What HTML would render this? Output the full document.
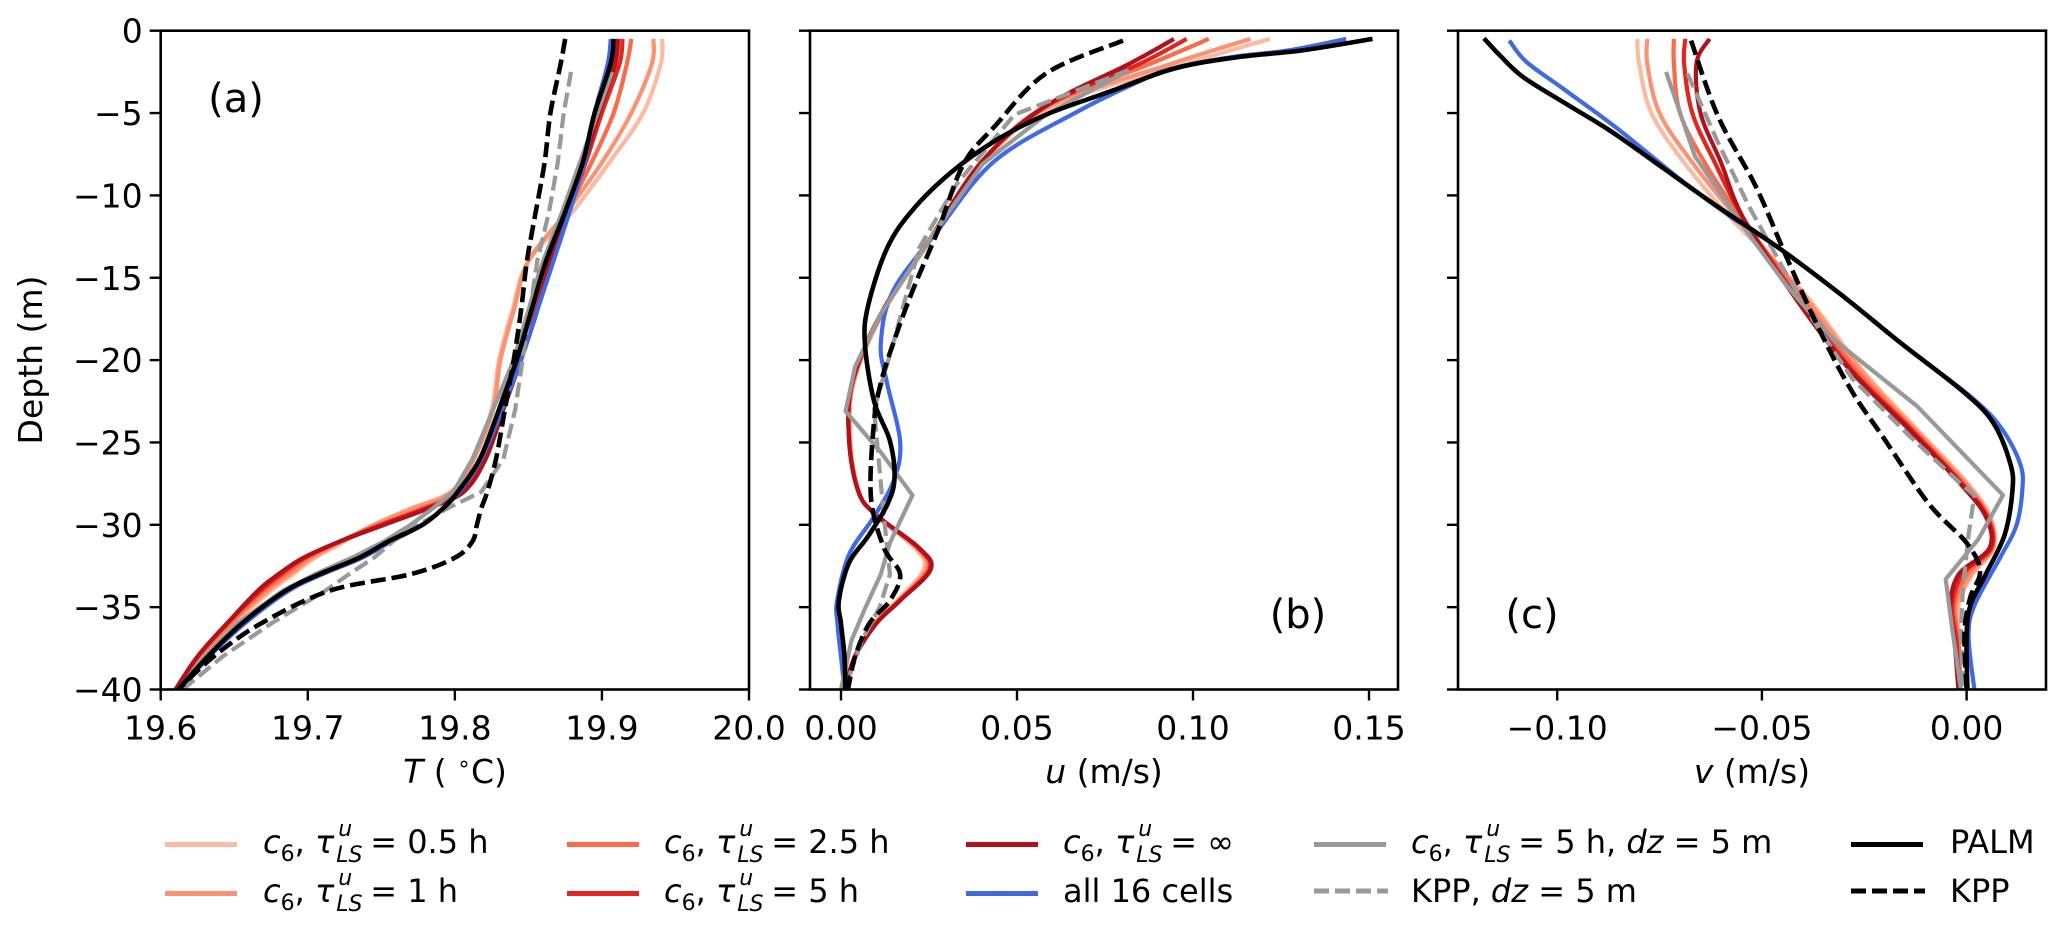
<!DOCTYPE html>
<html><head><meta charset="utf-8">
<style>
html,body{margin:0;padding:0;background:#fff;}
body{width:2067px;height:941px;position:relative;overflow:hidden;font-family:"DejaVu Sans","Liberation Sans",sans-serif;}
svg{position:absolute;left:0;top:0;}
.leg{position:absolute;font-size:32px;line-height:32px;white-space:nowrap;color:#000;}
.ss{display:inline-block;position:relative;width:36px;height:32px;vertical-align:top;}
.ss .u{position:absolute;left:4px;top:-12px;font-size:22px;font-style:italic;}
.ss .l{position:absolute;left:2px;top:14px;font-size:22px;font-style:italic;}
.sub{font-size:22px;position:relative;top:8px;}
i{font-style:italic;}
.sw{position:absolute;height:0;width:72px;}
</style></head>
<body>
<svg id="chart" width="2067" height="941" xmlns="http://www.w3.org/2000/svg">
<defs>
<clipPath id="ca"><rect x="160.7" y="30.7" width="588.3" height="658.8"/></clipPath>
<clipPath id="cb"><rect x="810" y="30.7" width="588" height="658.8"/></clipPath>
<clipPath id="cc"><rect x="1458" y="30.7" width="588" height="658.8"/></clipPath>
</defs>
<g id="gA" clip-path="url(#ca)"></g>
<g id="gB" clip-path="url(#cb)"></g>
<g id="gC" clip-path="url(#cc)"></g>
<g id="axes"></g>
<text x="236" y="112" font-size="40" text-anchor="middle" font-family="DejaVu Sans, sans-serif">(a)</text>
<text x="1298" y="628" font-size="40" text-anchor="middle" font-family="DejaVu Sans, sans-serif">(b)</text>
<text x="1532" y="628" font-size="40" text-anchor="middle" font-family="DejaVu Sans, sans-serif">(c)</text>
<text transform="translate(42,360) rotate(-90)" font-size="33" text-anchor="middle" font-family="DejaVu Sans, sans-serif">Depth (m)</text>
<text x="455" y="783" font-size="33" text-anchor="middle" font-family="DejaVu Sans, sans-serif"><tspan font-style="italic">T</tspan> ( <tspan font-size="22" dy="-12">∘</tspan><tspan dy="12">C)</tspan></text>
<text x="1104" y="783" font-size="33" text-anchor="middle" font-family="DejaVu Sans, sans-serif"><tspan font-style="italic">u</tspan> (m/s)</text>
<text x="1752" y="783" font-size="33" text-anchor="middle" font-family="DejaVu Sans, sans-serif"><tspan font-style="italic">v</tspan> (m/s)</text>
</svg>

<div>
<div class="sw" style="left:165px;top:842px;border-top:5px solid #fcbba1"></div>
<div class="leg" style="left:263px;top:826px"><i>c</i><span class="sub">6</span>, <i>τ</i><span class="ss"><span class="u">u</span><span class="l">LS</span></span>= 0.5 h</div>
<div class="sw" style="left:165px;top:891px;border-top:5px solid #fc9272"></div>
<div class="leg" style="left:263px;top:875px"><i>c</i><span class="sub">6</span>, <i>τ</i><span class="ss"><span class="u">u</span><span class="l">LS</span></span>= 1 h</div>
<div class="sw" style="left:567px;top:842px;border-top:5px solid #fb6a4a"></div>
<div class="leg" style="left:664px;top:826px"><i>c</i><span class="sub">6</span>, <i>τ</i><span class="ss"><span class="u">u</span><span class="l">LS</span></span>= 2.5 h</div>
<div class="sw" style="left:567px;top:891px;border-top:5px solid #e2261f"></div>
<div class="leg" style="left:664px;top:875px"><i>c</i><span class="sub">6</span>, <i>τ</i><span class="ss"><span class="u">u</span><span class="l">LS</span></span>= 5 h</div>
<div class="sw" style="left:966px;top:842px;border-top:5px solid #b0111a"></div>
<div class="leg" style="left:1063px;top:826px"><i>c</i><span class="sub">6</span>, <i>τ</i><span class="ss"><span class="u">u</span><span class="l">LS</span></span>= ∞</div>
<div class="sw" style="left:966px;top:891px;border-top:5px solid #4169e1"></div>
<div class="leg" style="left:1063px;top:875px">all 16 cells</div>
<div class="sw" style="left:1314px;top:842px;border-top:5px solid #999"></div>
<div class="leg" style="left:1411px;top:826px"><i>c</i><span class="sub">6</span>, <i>τ</i><span class="ss"><span class="u">u</span><span class="l">LS</span></span>= 5 h, <i>dz</i> = 5 m</div>
<svg style="left:1314px;top:885px" width="74" height="12"><line x1="0" y1="6" x2="74" y2="6" stroke="#999" stroke-width="5" stroke-dasharray="15,6"/></svg>
<div class="leg" style="left:1411px;top:875px">KPP, <i>dz</i> = 5 m</div>
<div class="sw" style="left:1851px;top:842px;border-top:5px solid #000"></div>
<div class="leg" style="left:1950px;top:826px">PALM</div>
<svg style="left:1851px;top:885px" width="74" height="12"><line x1="0" y1="6" x2="74" y2="6" stroke="#000" stroke-width="5" stroke-dasharray="15,6"/></svg>
<div class="leg" style="left:1950px;top:875px">KPP</div>
</div>

<script>
// ---------- data: panel (a) temperature ----------
const dA = [-0.5,-2,-5,-8,-11,-14,-17,-20,-23,-26,-28,-29,-30,-31,-32,-33,-34,-36,-38,-40];
const tA_05 = [19.941,19.940,19.928,19.905,19.880,19.850,19.839,19.830,19.825,19.813,19.797,19.770,19.745,19.725,19.705,19.690,19.675,19.650,19.628,19.610];
const tA_1 = [19.935,19.934,19.920,19.900,19.876,19.850,19.840,19.831,19.826,19.813,19.798,19.772,19.745,19.724,19.703,19.688,19.673,19.648,19.627,19.610];
const tA_25 = [19.920,19.917,19.908,19.893,19.876,19.860,19.850,19.840,19.830,19.818,19.802,19.778,19.748,19.722,19.700,19.685,19.670,19.647,19.626,19.610];
const tA_5 = [19.914,19.912,19.900,19.889,19.877,19.865,19.855,19.844,19.832,19.820,19.805,19.780,19.750,19.722,19.698,19.682,19.668,19.645,19.625,19.610];
const tA_inf = [19.911,19.909,19.898,19.888,19.877,19.865,19.856,19.845,19.833,19.821,19.806,19.782,19.752,19.722,19.697,19.680,19.666,19.645,19.625,19.610];
const tA_all = [19.906,19.904,19.895,19.888,19.878,19.867,19.856,19.845,19.832,19.818,19.803,19.792,19.778,19.757,19.737,19.710,19.687,19.657,19.633,19.613];
const tA_palm = [19.908,19.906,19.895,19.887,19.875,19.862,19.852,19.842,19.830,19.817,19.802,19.792,19.778,19.755,19.735,19.708,19.685,19.655,19.632,19.612];
const tA_kpp = [19.875,19.872,19.865,19.861,19.855,19.849,19.845,19.840,19.834,19.828,19.822,19.818,19.815,19.812,19.800,19.770,19.715,19.668,19.636,19.612];
const dA5 = [-2.5,-5,-8,-11,-14,-17,-20,-23,-26,-28,-29,-30,-31,-32,-33,-34,-36,-38,-40];
const tA_dz5 = [19.907,19.897,19.885,19.873,19.860,19.850,19.840,19.826,19.812,19.799,19.785,19.770,19.752,19.730,19.705,19.683,19.652,19.630,19.612];
const tA_kppdz5 = [19.879,19.874,19.870,19.864,19.856,19.851,19.846,19.841,19.833,19.818,19.795,19.775,19.758,19.745,19.728,19.712,19.675,19.642,19.615];

// ---------- data: panel (b) u ----------
const dB_red = [-0.5,-2,-4.6,-7.9,-12.5,-17.2,-21.4,-24.9,-27.9,-29.3,-31.4,-32.7,-34.6,-36,-38,-40];
const uB_05 = [0.1219,0.098,0.060,0.0410,0.0262,0.0118,0.0036,0.0027,0.0050,0.0092,0.0210,0.0235,0.0160,0.0095,0.0038,0.001];
const uB_1 = [0.1163,0.094,0.059,0.0406,0.0260,0.0116,0.0034,0.0025,0.0049,0.0093,0.0215,0.0242,0.0163,0.0097,0.0039,0.001];
const uB_25 = [0.1045,0.088,0.058,0.0404,0.0258,0.0115,0.0033,0.0024,0.0048,0.0094,0.0218,0.0248,0.0165,0.0098,0.004,0.001];
const uB_5 = [0.0982,0.085,0.058,0.0402,0.0257,0.0114,0.0032,0.0023,0.0048,0.0094,0.0220,0.0252,0.0167,0.0100,0.004,0.001];
const uB_inf = [0.0946,0.082,0.058,0.0402,0.0257,0.0113,0.0031,0.0023,0.0048,0.0094,0.0222,0.0255,0.0168,0.0100,0.004,0.001];
const dB_palm = [-0.5,-1.2,-1.6,-2.3,-3.7,-5.1,-6.7,-8.6,-10.9,-13.2,-16.7,-19,-22.5,-24.9,-27.2,-28.8,-30.7,-32.3,-34.6,-36,-38,-40];
const uB_palm = [0.151,0.1308,0.1128,0.0946,0.0764,0.0582,0.0437,0.0313,0.0203,0.0131,0.0077,0.0068,0.0094,0.0139,0.0152,0.0131,0.0077,0.0023,-0.0006,0.0,0.001,0.0012];
const dB_all = [-0.5,-1.2,-1.6,-2.3,-3,-4.9,-7.9,-12.1,-15.8,-19,-21.4,-24.9,-27.2,-29.5,-31.8,-34.6,-36,-38,-40];
const uB_all = [0.1435,0.127,0.111,0.094,0.0855,0.0673,0.0437,0.0276,0.0148,0.0113,0.0131,0.0168,0.0152,0.0094,0.0023,-0.0011,-0.001,0.0,0.001];
const dB_kpp = [-0.6,-2.6,-5.8,-8.1,-12.1,-15.8,-19,-21.4,-23.7,-28.3,-31.4,-33,-34.6,-36,-38,-40];
const uB_kpp = [0.0801,0.0582,0.0437,0.0348,0.0276,0.0203,0.0148,0.0113,0.0094,0.0085,0.0122,0.0168,0.0139,0.008,0.004,0.002];
const dB_kppdz5 = [-2.4,-5.1,-9.3,-13.2,-19,-23,-29.5,-33,-35,-37,-40];
const uB_kppdz5 = [0.0818,0.0493,0.0329,0.0222,0.0148,0.0094,0.0122,0.0139,0.011,0.006,0.001];
const dB_dz5 = [-2.4,-5.1,-8.1,-12.5,-17.2,-20.4,-23.1,-25.6,-28.2,-31.1,-33,-35,-37,-40];
const uB_dz5 = [0.0818,0.0582,0.0402,0.0257,0.0113,0.004,0.0013,0.0113,0.0203,0.0139,0.0113,0.007,0.003,0.0];

// ---------- data: panel (c) v ----------
const dC_red = [-0.5,-2,-5,-8,-11.4,-16,-20.6,-24.1,-27.4,-29.5,-31.4,-33,-34.9,-37,-40];
const vC_05 = [-0.0804,-0.0800,-0.0770,-0.0690,-0.0575,-0.0395,-0.0255,-0.0125,0.000,0.0058,0.0066,0.0015,-0.002,-0.0018,-0.0015];
const vC_1 = [-0.078,-0.078,-0.075,-0.067,-0.056,-0.040,-0.026,-0.013,-0.0005,0.0055,0.0065,0.001,-0.0025,-0.002,-0.0015];
const vC_25 = [-0.0715,-0.0715,-0.0700,-0.0640,-0.055,-0.041,-0.027,-0.0135,-0.001,0.0052,0.0062,0.000,-0.003,-0.002,-0.0015];
const vC_5 = [-0.0687,-0.0690,-0.0670,-0.0615,-0.0545,-0.042,-0.028,-0.014,-0.0015,0.0050,0.0060,-0.001,-0.0035,-0.0025,-0.0018];
const vC_inf = [-0.0628,-0.0660,-0.0650,-0.0600,-0.0545,-0.0425,-0.0285,-0.0145,-0.0019,0.0047,0.0056,-0.0019,-0.0040,-0.0030,-0.0020];
const dC_palm = [-0.46,-1.5,-2.8,-4.4,-6.1,-8.4,-10.7,-13.2,-16,-19,-21.9,-23.8,-26.3,-27.9,-30.6,-33,-34.9,-36.8,-40];
const vC_palm = [-0.1179,-0.1140,-0.1084,-0.0981,-0.0869,-0.0738,-0.0607,-0.0458,-0.0308,-0.0159,-0.0009,0.0065,0.0107,0.0112,0.0093,0.0047,0.0009,0.0,0.0002];
const dC_all = [-0.6,-1.9,-3.6,-6,-9,-11.4,-13.2,-16,-19,-22.2,-24.1,-26.3,-27.9,-30.1,-31.9,-34.9,-36.8,-40];
const vC_all = [-0.1117,-0.1075,-0.0981,-0.0850,-0.0701,-0.0570,-0.0458,-0.0308,-0.0159,0.0009,0.0084,0.0131,0.0136,0.0121,0.0084,0.0019,0.0005,0.0019];
const dC_kpp = [-0.6,-5.2,-9.5,-13.8,-18.4,-21.9,-24.6,-28.7,-31.1,-32.8,-34.4,-36.5,-40];
const vC_kpp = [-0.0673,-0.0607,-0.0514,-0.0439,-0.0355,-0.0280,-0.0206,-0.0093,0.0,0.0033,0.0009,-0.0005,0.0];
const dC_kppdz5 = [-2.6,-6.8,-10.6,-14.4,-17.6,-21.1,-24.6,-27.4,-28.2,-30.6,-33.8,-36.5,-40];
const vC_kppdz5 = [-0.0682,-0.0607,-0.0533,-0.0449,-0.0374,-0.0280,-0.0140,-0.0019,0.0019,0.0005,-0.0009,-0.0014,-0.0009];
const dC_dz5 = [-2.5,-7.6,-11.7,-15.5,-18.7,-22.8,-28.2,-30.9,-33.3,-36,-40];
const vC_dz5 = [-0.0734,-0.0664,-0.0551,-0.0439,-0.0327,-0.0121,0.0089,0.0028,-0.0051,-0.0037,-0.0014];

// ---------- ticks ----------
const yTicks = [0,-5,-10,-15,-20,-25,-30,-35,-40];
const xTicksA = [19.6,19.7,19.8,19.9,20.0];
const xTickLabelsA = ["19.6","19.7","19.8","19.9","20.0"];
const xTicksB = [0,0.05,0.10,0.15];
const xTickLabelsB = ["0.00","0.05","0.10","0.15"];
const xTicksC = [-0.10,-0.05,0.0];
const xTickLabelsC = ["\u22120.10","\u22120.05","0.00"];

const NS = "http://www.w3.org/2000/svg";
const TOP = 30.7, PXD = 16.47;
function yS(d){ return TOP + (-d) * PXD; }
function xA(v){ return 160.7 + (v - 19.6) / 0.4 * 588.3; }
function xB(v){ return 841 + v * 3520; }
function xC(v){ return 1966.6 + v * 4094; }

const C05="#fcbba1", C1="#fc9272", C25="#fb6a4a", C5="#e2261f", CINF="#b0111a", CBLUE="#4169e1", CGRAY="#999999";

function line(g, xs, ds, sx, color, w, dash, name, smooth){
  const P = ds.map((d, i) => [sx(xs[i]), yS(d)]);
  let p = "M" + P[0][0].toFixed(1) + "," + P[0][1].toFixed(1);
  for (let i = 1; i < P.length; i++) {
    if (smooth) {
      const p0 = P[Math.max(0, i - 2)], p1 = P[i - 1], p2 = P[i], p3 = P[Math.min(P.length - 1, i + 1)];
      const c1x = p1[0] + (p2[0] - p0[0]) / 6, c1y = p1[1] + (p2[1] - p0[1]) / 6;
      const c2x = p2[0] - (p3[0] - p1[0]) / 6, c2y = p2[1] - (p3[1] - p1[1]) / 6;
      p += "C" + c1x.toFixed(1) + "," + c1y.toFixed(1) + " " + c2x.toFixed(1) + "," + c2y.toFixed(1) + " " + p2[0].toFixed(1) + "," + p2[1].toFixed(1);
    } else {
      p += "L" + P[i][0].toFixed(1) + "," + P[i][1].toFixed(1);
    }
  }
  const el = document.createElementNS(NS, "path");
  el.setAttribute("d", p);
  el.setAttribute("fill", "none");
  el.setAttribute("stroke", color);
  el.setAttribute("stroke-width", w);
  el.setAttribute("stroke-linejoin", "round");
  if (dash) el.setAttribute("stroke-dasharray", dash);
  
  
  g.appendChild(el);
}

const W = 4.2, WB = 4.6, DASH = "15,6";
const gA = document.getElementById("gA"), gB = document.getElementById("gB"), gC = document.getElementById("gC");
line(gA, tA_05, dA, xA, C05, W, null, "line-a-0.5h", true);
line(gA, tA_1, dA, xA, C1, W, null, "line-a-1h", true);
line(gA, tA_25, dA, xA, C25, W, null, "line-a-2.5h", true);
line(gA, tA_5, dA, xA, C5, W, null, "line-a-5h", true);
line(gA, tA_inf, dA, xA, CINF, W, null, "line-a-inf", true);
line(gA, tA_all, dA, xA, CBLUE, W, null, "line-a-all16", true);
line(gA, tA_dz5, dA5, xA, CGRAY, W, null, "line-a-dz5", false);
line(gA, tA_kppdz5, dA5, xA, CGRAY, W, DASH, "line-a-kpp-dz5", false);
line(gA, tA_palm, dA, xA, "#000", WB, null, "line-a-palm", true);
line(gA, tA_kpp, dA, xA, "#000", WB, DASH, "line-a-kpp", true);

line(gB, uB_05, dB_red, xB, C05, W, null, "line-b-0.5h", true);
line(gB, uB_1, dB_red, xB, C1, W, null, "line-b-1h", true);
line(gB, uB_25, dB_red, xB, C25, W, null, "line-b-2.5h", true);
line(gB, uB_5, dB_red, xB, C5, W, null, "line-b-5h", true);
line(gB, uB_inf, dB_red, xB, CINF, W, null, "line-b-inf", true);
line(gB, uB_all, dB_all, xB, CBLUE, W, null, "line-b-all16", true);
line(gB, uB_dz5, dB_dz5, xB, CGRAY, W, null, "line-b-dz5", false);
line(gB, uB_kppdz5, dB_kppdz5, xB, CGRAY, W, DASH, "line-b-kpp-dz5", false);
line(gB, uB_palm, dB_palm, xB, "#000", WB, null, "line-b-palm", true);
line(gB, uB_kpp, dB_kpp, xB, "#000", WB, DASH, "line-b-kpp", true);

line(gC, vC_05, dC_red, xC, C05, W, null, "line-c-0.5h", true);
line(gC, vC_1, dC_red, xC, C1, W, null, "line-c-1h", true);
line(gC, vC_25, dC_red, xC, C25, W, null, "line-c-2.5h", true);
line(gC, vC_5, dC_red, xC, C5, W, null, "line-c-5h", true);
line(gC, vC_inf, dC_red, xC, CINF, W, null, "line-c-inf", true);
line(gC, vC_all, dC_all, xC, CBLUE, W, null, "line-c-all16", true);
line(gC, vC_dz5, dC_dz5, xC, CGRAY, W, null, "line-c-dz5", false);
line(gC, vC_kppdz5, dC_kppdz5, xC, CGRAY, W, DASH, "line-c-kpp-dz5", false);
line(gC, vC_palm, dC_palm, xC, "#000", WB, null, "line-c-palm", true);
line(gC, vC_kpp, dC_kpp, xC, "#000", WB, DASH, "line-c-kpp", true);

// ---------- axes ----------
const ax = document.getElementById("axes");
function mk(tag, attrs){ const e = document.createElementNS(NS, tag); for (const k in attrs) e.setAttribute(k, attrs[k]); ax.appendChild(e); return e; }
const BOT = yS(-40);
const panels = [
  {x0:160.7, x1:749, sx:xA, ticks:xTicksA, labels:xTickLabelsA, ylab:true, id:"a"},
  {x0:810, x1:1398, sx:xB, ticks:xTicksB, labels:xTickLabelsB, ylab:false, id:"b"},
  {x0:1458, x1:2046, sx:xC, ticks:xTicksC, labels:xTickLabelsC, ylab:false, id:"c"}
];
panels.forEach(p => {
  const r = mk("rect", {x:p.x0, y:TOP, width:p.x1 - p.x0, height:BOT - TOP, fill:"none", stroke:"#000", "stroke-width":2.6});
  
  
  yTicks.forEach(d => {
    const t = mk("line", {x1:p.x0 - 11, x2:p.x0, y1:yS(d), y2:yS(d), stroke:"#000", "stroke-width":2.4});
    
    
    if (p.ylab) {
      const tx = mk("text", {x:p.x0 - 18, y:yS(d) + 12, "font-size":33, "text-anchor":"end", "font-family":"DejaVu Sans, sans-serif"});
      tx.textContent = d === 0 ? "0" : "\u2212" + (-d);
      
      
    }
  });
  p.ticks.forEach((v, i) => {
    const x = p.sx(v);
    const t = mk("line", {x1:x, x2:x, y1:BOT, y2:BOT + 11, stroke:"#000", "stroke-width":2.4});
    
    
    const tx = mk("text", {x:x, y:BOT + 50, "font-size":33, "text-anchor":"middle", "font-family":"DejaVu Sans, sans-serif"});
    tx.textContent = p.labels[i];
    
    
  });
});
</script>
</body></html>
